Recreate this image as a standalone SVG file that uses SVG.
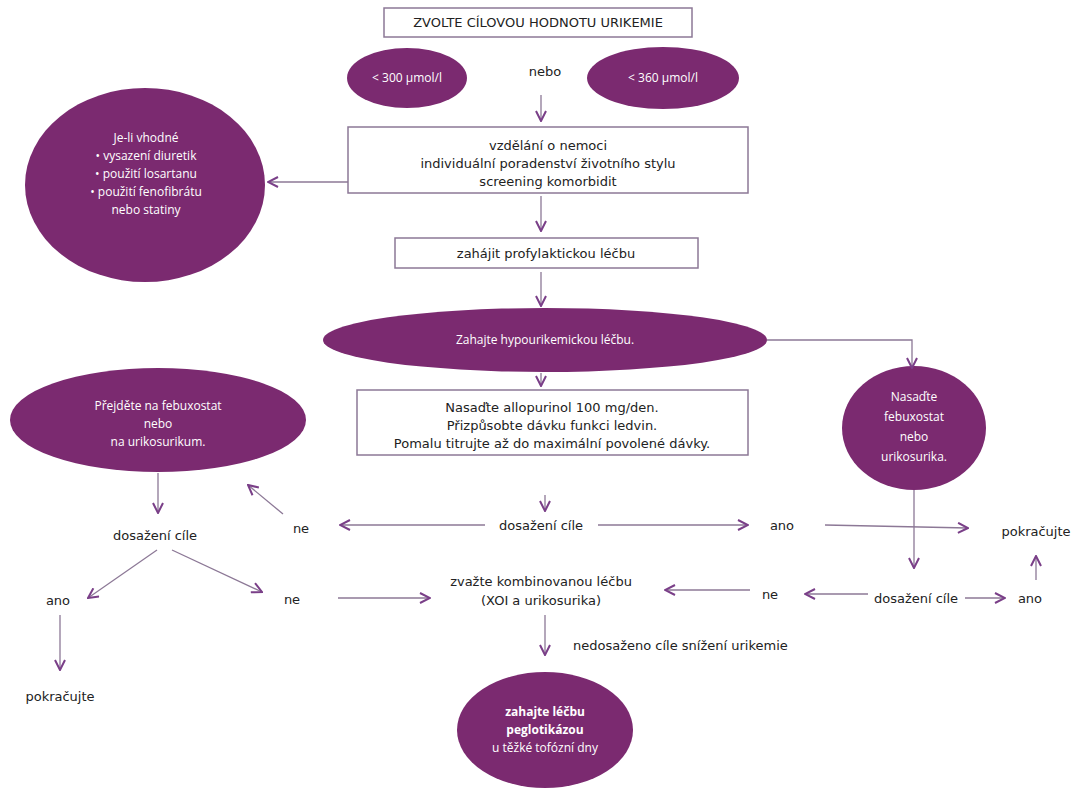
<svg xmlns="http://www.w3.org/2000/svg" width="1087" height="800" viewBox="0 0 1087 800">
<defs>
<marker id="a" viewBox="0 0 12 12" refX="11" refY="6" markerWidth="12" markerHeight="12" markerUnits="userSpaceOnUse" orient="auto"><path d="M1,1 L11,6 L1,11" fill="none" stroke="#7a3f88" stroke-width="2"/></marker>
<style>
.b{fill:#fff;stroke:#8c7896;stroke-width:1.5}
.e{fill:#7b2a70}
.t{font-family:"DejaVu Sans",sans-serif;font-size:13px;fill:#222;text-anchor:middle}
.w{font-family:"Open Sans","Liberation Sans",sans-serif;font-size:12px;fill:#fff;text-anchor:middle}
.c line,.c path{stroke:#8c7896;stroke-width:1.3;fill:none;marker-end:url(#a)}
</style>
</defs>
<rect width="1087" height="800" fill="#fff"/>
<g id="title"><rect class="b" x="384" y="8" width="308" height="29"/><text class="t" x="538" y="27">ZVOLTE CÍLOVOU HODNOTU URIKEMIE</text></g>
<g id="e300"><ellipse class="e" cx="407" cy="78" rx="60" ry="30"/><text class="w" x="407" y="82">&lt; 300 µmol/l</text></g>
<g id="nebo"><text class="t" x="545" y="76">nebo</text></g>
<g id="e360"><ellipse class="e" cx="663" cy="78" rx="76" ry="31"/><text class="w" x="663" y="82">&lt; 360 µmol/l</text></g>
<g id="edu"><rect class="b" x="348" y="127" width="400" height="66"/>
<text class="t" x="548" y="150">vzdělání o nemoci</text><text class="t" x="548" y="168">individuální poradenství životního stylu</text><text class="t" x="548" y="186">screening komorbidit</text></g>
<g id="eleft"><ellipse class="e" cx="145" cy="185" rx="120" ry="97"/>
<text class="w" x="146" y="142">Je-li vhodné</text><text class="w" x="146" y="160">• vysazení diuretik</text><text class="w" x="146" y="178">• použití losartanu</text><text class="w" x="146" y="196">• použití fenofibrátu</text><text class="w" x="146" y="214">nebo statiny</text></g>
<g id="prof"><rect class="b" x="395" y="238" width="303" height="30"/><text class="t" x="546" y="258">zahájit profylaktickou léčbu</text></g>
<g id="hypo"><ellipse class="e" cx="545" cy="340" rx="222" ry="32"/><text class="w" x="545" y="344">Zahajte hypourikemickou léčbu.</text></g>
<g id="allo"><rect class="b" x="357" y="390" width="391" height="65"/>
<text class="t" x="552" y="412">Nasaďte allopurinol 100 mg/den.</text><text class="t" x="552" y="430">Přizpůsobte dávku funkci ledvin.</text><text class="t" x="552" y="448">Pomalu titrujte až do maximální povolené dávky.</text></g>
<g id="eright"><ellipse class="e" cx="914" cy="428" rx="72" ry="62"/>
<text class="w" x="914" y="401">Nasaďte</text><text class="w" x="914" y="421">febuxostat</text><text class="w" x="914" y="441">nebo</text><text class="w" x="914" y="461">urikosurika.</text></g>
<g id="efeb"><ellipse class="e" cx="158" cy="420" rx="148" ry="52"/>
<text class="w" x="158" y="410">Přejděte na febuxostat</text><text class="w" x="158" y="428">nebo</text><text class="w" x="158" y="446">na urikosurikum.</text></g>
<g id="labels">
<text class="t" x="155" y="540">dosažení cíle</text>
<text class="t" x="58" y="605">ano</text>
<text class="t" x="292" y="604">ne</text>
<text class="t" x="60" y="701">pokračujte</text>
<text class="t" x="301" y="533">ne</text>
<text class="t" x="541" y="530">dosažení cíle</text>
<text class="t" x="782" y="530">ano</text>
<text class="t" x="1036" y="536">pokračujte</text>
<text class="t" x="1030" y="603">ano</text>
<text class="t" x="916" y="603">dosažení cíle</text>
<text class="t" x="770" y="599">ne</text>
<text class="t" x="541" y="586">zvažte kombinovanou léčbu</text>
<text class="t" x="541" y="605">(XOI a urikosurika)</text>
<text class="t" x="573" y="650" text-anchor="start" style="text-anchor:start">nedosaženo cíle snížení urikemie</text>
</g>
<g id="epeg"><ellipse class="e" cx="545" cy="730" rx="88" ry="58"/>
<text class="w" x="545" y="716" font-weight="bold">zahajte léčbu</text><text class="w" x="545" y="734" font-weight="bold">peglotikázou</text><text class="w" x="545" y="752">u těžké tofózní dny</text></g>
<g class="c" id="connectors">
<line x1="541" y1="95" x2="541" y2="121"/>
<line x1="348" y1="182" x2="268" y2="182"/>
<line x1="541" y1="196" x2="541" y2="231"/>
<line x1="541" y1="272" x2="541" y2="306"/>
<path d="M767,340 H912 V368"/>
<line x1="541" y1="373" x2="541" y2="386"/>
<line x1="158" y1="473" x2="158" y2="513"/>
<line x1="157" y1="550" x2="88" y2="598"/>
<line x1="172" y1="550" x2="262" y2="592"/>
<line x1="60" y1="615" x2="60" y2="670"/>
<line x1="283" y1="514" x2="248" y2="485"/>
<line x1="545" y1="495" x2="545" y2="511"/>
<line x1="485" y1="525" x2="340" y2="525"/>
<line x1="598" y1="525" x2="748" y2="525"/>
<line x1="825" y1="525" x2="968" y2="528"/>
<line x1="1036" y1="580" x2="1036" y2="556"/>
<line x1="914" y1="490" x2="914" y2="568"/>
<line x1="965" y1="598" x2="1005" y2="598"/>
<line x1="868" y1="594" x2="805" y2="594"/>
<line x1="750" y1="590" x2="665" y2="590"/>
<line x1="338" y1="598" x2="430" y2="598"/>
<line x1="545" y1="615" x2="545" y2="655"/>
</g>
</svg>
